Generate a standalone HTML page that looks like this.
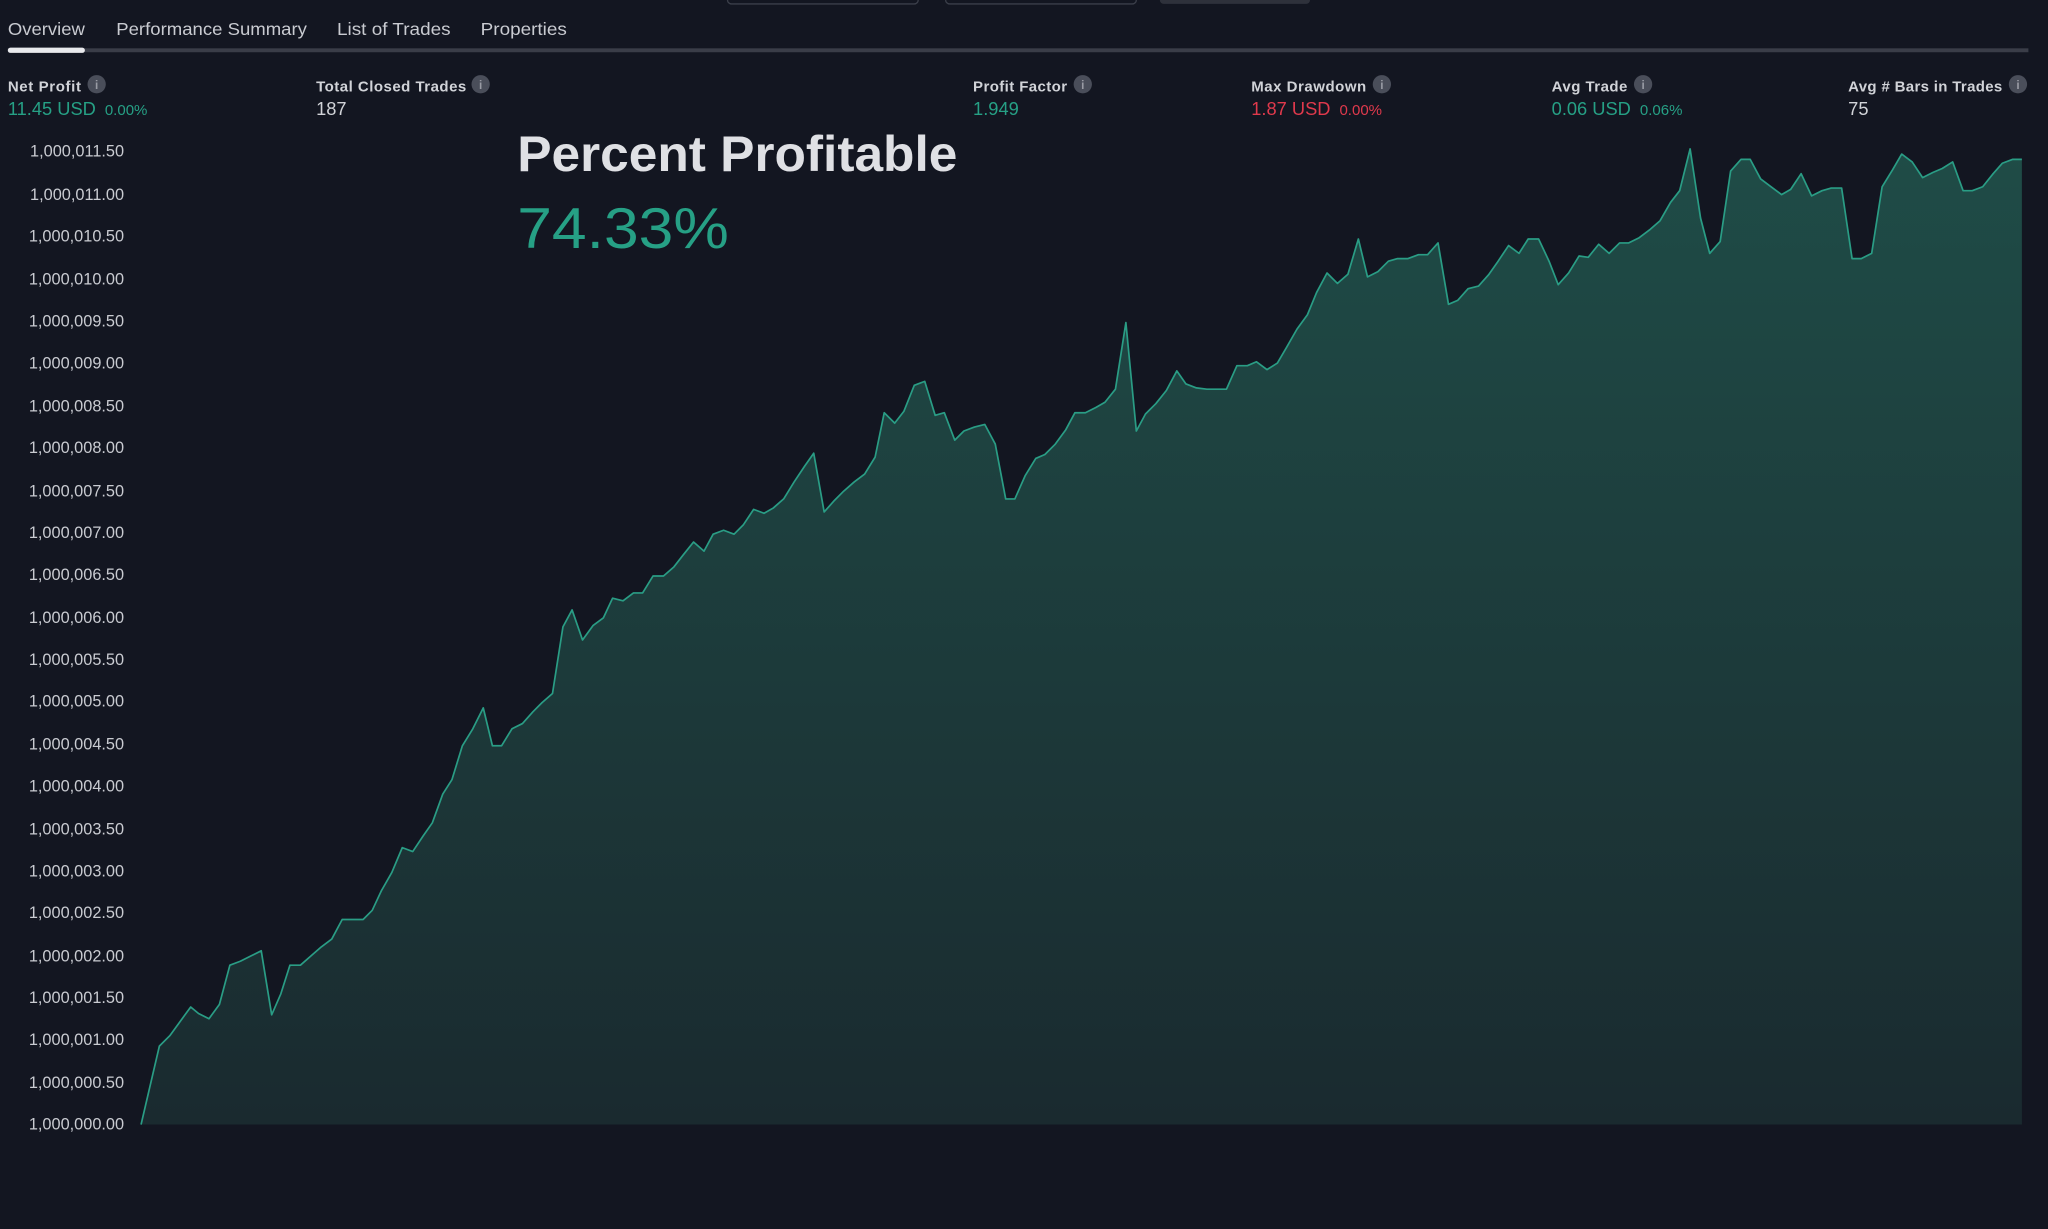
<!DOCTYPE html>
<html><head><meta charset="utf-8"><style>
html,body{margin:0;padding:0;background:#131621;}
svg{display:block;}
text{font-family:"Liberation Sans",sans-serif;}
</style></head><body>
<svg width="2048" height="1229" viewBox="0 0 1568 941" preserveAspectRatio="none" xmlns="http://www.w3.org/2000/svg">
<defs>
<linearGradient id="g" x1="0" y1="0" x2="0" y2="1">
<stop offset="0" stop-color="#1f4c47"/>
<stop offset="1" stop-color="#1a2a2f"/>
</linearGradient>
</defs>
<rect width="1568" height="941" fill="#131621"/>
<rect x="557" y="-6" width="146" height="9" rx="3" fill="none" stroke="#3b3f4a" stroke-width="1"/>
<rect x="724" y="-6" width="146" height="9" rx="3" fill="none" stroke="#3b3f4a" stroke-width="1"/>
<rect x="888" y="-6" width="115" height="9" rx="3" fill="#2e313b"/>
<g font-size="13.5" fill="#c9cbd1">
<text x="6" y="27" textLength="59" lengthAdjust="spacingAndGlyphs">Overview</text>
<text x="89" y="27" textLength="146" lengthAdjust="spacingAndGlyphs">Performance Summary</text>
<text x="258" y="27" textLength="87" lengthAdjust="spacingAndGlyphs">List of Trades</text>
<text x="368" y="27" textLength="66" lengthAdjust="spacingAndGlyphs">Properties</text>
</g>
<rect x="6" y="37" width="1547" height="3" fill="#3a3d48"/>
<rect x="6" y="36.5" width="59" height="4" rx="2" fill="#e8e9ec"/>
<g font-size="11.5" font-weight="bold" fill="#d1d3d8">
<text x="6" y="70" textLength="56">Net Profit</text>
<text x="242" y="70" textLength="115">Total Closed Trades</text>
<text x="745" y="70" textLength="72">Profit Factor</text>
<text x="958" y="70" textLength="88">Max Drawdown</text>
<text x="1188" y="70" textLength="58">Avg Trade</text>
<text x="1415" y="70" textLength="118">Avg # Bars in Trades</text>
</g>
<g fill="#4a4e5a">
<circle cx="74" cy="64.5" r="7"/><circle cx="368" cy="64.5" r="7"/><circle cx="829" cy="64.5" r="7"/>
<circle cx="1058" cy="64.5" r="7"/><circle cx="1258" cy="64.5" r="7"/><circle cx="1545" cy="64.5" r="7"/>
</g>
<g font-size="9" font-weight="bold" fill="#9a9ca5" text-anchor="middle">
<text x="74" y="68">i</text><text x="368" y="68">i</text><text x="829" y="68">i</text>
<text x="1058" y="68">i</text><text x="1258" y="68">i</text><text x="1545" y="68">i</text>
</g>
<g font-size="14">
<text x="6" y="88" fill="#26a085">11.45 USD <tspan font-size="11.5" dx="3">0.00%</tspan></text>
<text x="242" y="88" fill="#d1d3d8">187</text>
<text x="745" y="88" fill="#26a085">1.949</text>
<text x="958" y="88" fill="#e0394c">1.87 USD <tspan font-size="11.5" dx="3">0.00%</tspan></text>
<text x="1188" y="88" fill="#26a085">0.06 USD <tspan font-size="11.5" dx="3">0.06%</tspan></text>
<text x="1415" y="88" fill="#d1d3d8">75</text>
</g>
<g font-size="12.5" fill="#c9cbd1" text-anchor="end">
<text x="95" y="120">1,000,011.50</text><text x="95" y="153">1,000,011.00</text><text x="95" y="185">1,000,010.50</text>
<text x="95" y="218">1,000,010.00</text><text x="95" y="250">1,000,009.50</text><text x="95" y="282">1,000,009.00</text>
<text x="95" y="315">1,000,008.50</text><text x="95" y="347">1,000,008.00</text><text x="95" y="380">1,000,007.50</text>
<text x="95" y="412">1,000,007.00</text><text x="95" y="444">1,000,006.50</text><text x="95" y="477">1,000,006.00</text>
<text x="95" y="509">1,000,005.50</text><text x="95" y="541">1,000,005.00</text><text x="95" y="574">1,000,004.50</text>
<text x="95" y="606">1,000,004.00</text><text x="95" y="639">1,000,003.50</text><text x="95" y="671">1,000,003.00</text>
<text x="95" y="703">1,000,002.50</text><text x="95" y="736">1,000,002.00</text><text x="95" y="768">1,000,001.50</text>
<text x="95" y="800">1,000,001.00</text><text x="95" y="833">1,000,000.50</text><text x="95" y="865">1,000,000.00</text>
</g>
<polygon fill="url(#g)" points="108,861 122,801 130,793 138,782 146,771 152,776 160,780 168,769 176,739 184,736 192,732 200,728 208,777 215,761 222,739 230,739 238,732 246,725 254,719 262,704 270,704 278,704 285,697 292,682 300,668 308,649 316,652 324,640 331,630 339,608 346,597 354,571 362,558 370,542 377,571 384,571 392,558 400,554 408,545 415,538 423,531 431,480 438,467 446,490 454,479 462,473 469,458 477,460 485,454 492,454 500,441 508,441 516,434 523,425 531,415 539,422 546,409 554,406 562,409 569,402 577,390 585,393 592,389 600,382 608,369 616,357 623,347 631,392 639,383 646,376 654,369 662,363 670,350 677,316 685,324 692,315 700,295 708,292 716,318 723,316 731,337 738,330 746,327 754,325 762,340 770,382 777,382 785,364 793,351 800,348 808,340 816,329 823,316 831,316 839,312 846,308 854,298 862,247 870,330 877,317 885,309 893,299 901,284 908,294 916,297 924,298 931,298 939,298 947,280 955,280 962,277 970,283 978,278 985,266 993,252 1001,241 1008,224 1016,209 1024,217 1032,210 1040,183 1047,212 1055,208 1063,200 1070,198 1078,198 1086,195 1093,195 1101,186 1109,233 1116,230 1124,221 1132,219 1140,210 1147,200 1155,188 1163,194 1170,183 1178,183 1186,200 1193,218 1201,209 1209,196 1216,197 1224,187 1232,194 1240,186 1247,186 1255,182 1263,176 1271,169 1279,155 1286,146 1294,114 1302,167 1309,194 1317,185 1325,131 1333,122 1340,122 1348,137 1356,143 1364,149 1371,145 1379,133 1387,150 1395,146 1402,144 1410,144 1418,198 1425,198 1433,194 1441,143 1449,130 1456,118 1464,124 1472,136 1480,132 1487,129 1495,124 1503,146 1510,146 1518,143 1526,133 1533,125 1541,122 1548,122 1548,861"/>
<polyline fill="none" stroke="#2a9d85" stroke-width="1.3" stroke-linejoin="round" points="108,861 122,801 130,793 138,782 146,771 152,776 160,780 168,769 176,739 184,736 192,732 200,728 208,777 215,761 222,739 230,739 238,732 246,725 254,719 262,704 270,704 278,704 285,697 292,682 300,668 308,649 316,652 324,640 331,630 339,608 346,597 354,571 362,558 370,542 377,571 384,571 392,558 400,554 408,545 415,538 423,531 431,480 438,467 446,490 454,479 462,473 469,458 477,460 485,454 492,454 500,441 508,441 516,434 523,425 531,415 539,422 546,409 554,406 562,409 569,402 577,390 585,393 592,389 600,382 608,369 616,357 623,347 631,392 639,383 646,376 654,369 662,363 670,350 677,316 685,324 692,315 700,295 708,292 716,318 723,316 731,337 738,330 746,327 754,325 762,340 770,382 777,382 785,364 793,351 800,348 808,340 816,329 823,316 831,316 839,312 846,308 854,298 862,247 870,330 877,317 885,309 893,299 901,284 908,294 916,297 924,298 931,298 939,298 947,280 955,280 962,277 970,283 978,278 985,266 993,252 1001,241 1008,224 1016,209 1024,217 1032,210 1040,183 1047,212 1055,208 1063,200 1070,198 1078,198 1086,195 1093,195 1101,186 1109,233 1116,230 1124,221 1132,219 1140,210 1147,200 1155,188 1163,194 1170,183 1178,183 1186,200 1193,218 1201,209 1209,196 1216,197 1224,187 1232,194 1240,186 1247,186 1255,182 1263,176 1271,169 1279,155 1286,146 1294,114 1302,167 1309,194 1317,185 1325,131 1333,122 1340,122 1348,137 1356,143 1364,149 1371,145 1379,133 1387,150 1395,146 1402,144 1410,144 1418,198 1425,198 1433,194 1441,143 1449,130 1456,118 1464,124 1472,136 1480,132 1487,129 1495,124 1503,146 1510,146 1518,143 1526,133 1533,125 1541,122 1548,122"/>
<text x="396" y="131" font-size="38" font-weight="bold" fill="#dfe0e4" textLength="337" lengthAdjust="spacingAndGlyphs">Percent Profitable</text>
<text x="396" y="190" font-size="44" fill="#26a085" textLength="162" lengthAdjust="spacingAndGlyphs">74.33%</text>
</svg>
</body></html>
